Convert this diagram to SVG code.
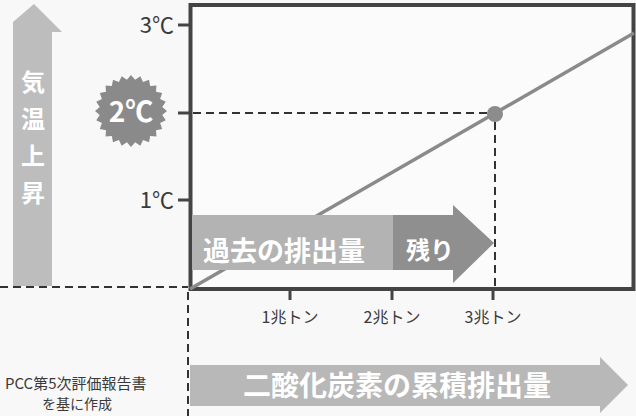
<svg xmlns="http://www.w3.org/2000/svg" width="636" height="416" viewBox="0 0 636 416">
<style>
.lbl{font-family:"Noto Sans CJK JP","Noto Sans",sans-serif;fill:#3a3a3a}
.wt{font-family:"Noto Sans CJK JP","Noto Sans",sans-serif;fill:#ffffff;font-weight:bold}
.ax{stroke:#444;stroke-width:3;fill:none}
.dash{stroke:#333;stroke-width:2;stroke-dasharray:8 5;fill:none}
</style>
<rect x="0" y="0" width="636" height="416" fill="#f8f8f8"/>
<g id="chart-frame">
<rect x="190.5" y="5" width="443" height="284" fill="#fbfbfb" stroke="#444" stroke-width="4"/>
</g>
<g id="connectors">
<line x1="190" y1="289" x2="634" y2="33" stroke="#8a8a8a" stroke-width="3.5"/>
<line class="dash" x1="193" y1="113" x2="488" y2="113"/>
<line class="dash" x1="495" y1="122" x2="495" y2="288" stroke-dasharray="6 5"/>
<line class="dash" x1="0" y1="287" x2="188" y2="287"/>
<line class="dash" x1="188" y1="292" x2="188" y2="416" stroke-width="1.5" stroke-dasharray="6 6"/>
</g>
<g id="y-axis">
<line class="ax" x1="178" y1="25" x2="190" y2="25"/>
<line class="ax" x1="178" y1="113" x2="190" y2="113"/>
<line class="ax" x1="178" y1="200" x2="190" y2="200"/>
<text class="lbl" x="174" y="33" font-size="22" text-anchor="end">3℃</text>
<text class="lbl" x="174" y="208" font-size="22" text-anchor="end">1℃</text>
</g>
<g id="x-axis">
<line class="ax" x1="290" y1="289" x2="290" y2="300"/>
<line class="ax" x1="392" y1="289" x2="392" y2="300"/>
<line class="ax" x1="493" y1="289" x2="493" y2="300"/>
<text class="lbl" x="290" y="323" font-size="16" text-anchor="middle">1兆トン</text>
<text class="lbl" x="392" y="323" font-size="16" text-anchor="middle">2兆トン</text>
<text class="lbl" x="493" y="323" font-size="16" text-anchor="middle">3兆トン</text>
</g>
<g id="point-2c">
<circle cx="495" cy="114" r="8" fill="#8c8c8c"/>
</g>
<g id="emission-arrow">
<rect x="192" y="215" width="202" height="55" fill="#b3b3b3"/>
<polygon points="393,215 453,215 453,205 494,243 453,283 453,270 393,270" fill="#8f8f8f"/>
<text class="wt" x="203" y="261" font-size="27">過去の排出量</text>
<text class="wt" x="406" y="259" font-size="24">残り</text>
</g>
<g id="temp-arrow">
<polygon points="13,286 13,22 34,4 62,32 52,32 52,286" fill="#bdbdbd"/>
<text class="wt" x="33" y="91" font-size="24" text-anchor="middle">気</text>
<text class="wt" x="33" y="128" font-size="24" text-anchor="middle">温</text>
<text class="wt" x="33" y="165" font-size="24" text-anchor="middle">上</text>
<text class="wt" x="33" y="202" font-size="24" text-anchor="middle">昇</text>
</g>
<g id="badge-2c">
<polygon fill="#8a8a8a" points="167,111 162.23,115.11 165.77,120.32 160.10,123.05 162.18,129 155.99,130.18 156.46,136.46 150.18,135.99 149,142.18 143.05,140.10 140.32,145.77 135.11,142.23 131,147 126.89,142.23 121.68,145.77 118.95,140.10 113,142.18 111.82,135.99 105.54,136.46 106.01,130.18 99.82,129 101.90,123.05 96.23,120.32 99.77,115.11 95,111 99.77,106.89 96.23,101.68 101.90,98.95 99.82,93 106.01,91.82 105.54,85.54 111.82,86.01 113,79.82 118.95,81.90 121.68,76.23 126.89,79.77 131,75 135.11,79.77 140.32,76.23 143.05,81.90 149,79.82 150.18,86.01 156.46,85.54 155.99,91.82 162.18,93 160.10,98.95 165.77,101.68 162.23,106.89"/>
<text class="wt" x="131" y="122" font-size="28" text-anchor="middle">2℃</text>
</g>
<g id="co2-arrow">
<polygon points="190,365 600,365 600,357 628,385 600,413 600,406 190,406" fill="#b8b8b8"/>
<text class="wt" x="243" y="396" font-size="28">二酸化炭素の累積排出量</text>
</g>
<g id="source-note">
<text class="lbl" x="5" y="389" font-size="15">PCC第5次評価報告書</text>
<text class="lbl" x="77" y="409" font-size="14" text-anchor="middle">を基に作成</text>
</g>
</svg>
